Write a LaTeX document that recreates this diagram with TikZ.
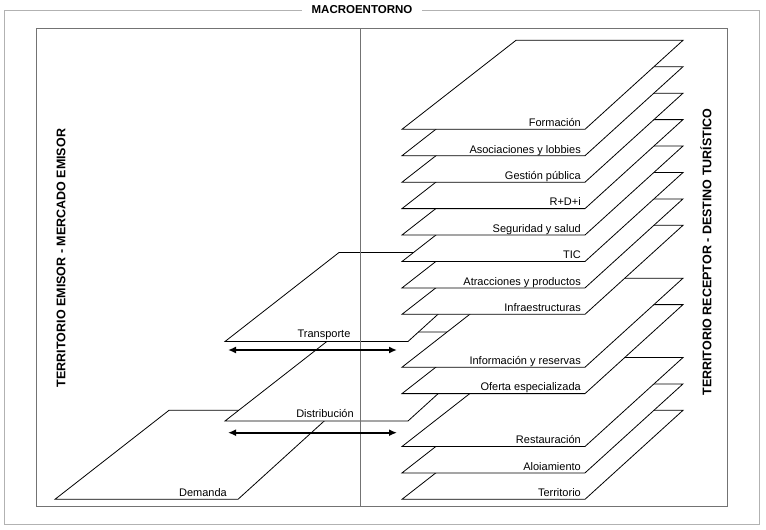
\documentclass[tikz,border=0pt]{standalone}
\usepackage{fontspec}
\setmainfont{Liberation Sans}
\usetikzlibrary{arrows.meta}
\begin{document}
\begin{tikzpicture}[x=1pt,y=-1pt,
  planeline/.style={draw=black,fill=white,line width=0.8pt,line join=miter},
  lab/.style={inner sep=0pt,font=\fontsize{11}{13}\selectfont},
  vlab/.style={inner sep=0pt,font=\fontsize{12.5}{15}\selectfont\bfseries,rotate=90},
  biarrow/.style={line width=1.8pt,{Latex[length=8pt,width=7pt]}-{Latex[length=8pt,width=7pt]}},
  outerbox/.style={draw=black!30,line width=0.8pt},
  innerbox/.style={draw=black!55,line width=0.8pt}]
\useasboundingbox (0,0) rectangle (766,530);
\fill[white] (0,0) rectangle (766,530);
\newcommand{\myplane}[3]{%
  \coordinate (#1) at (#2,#3);
  \path[planeline] (#1) -- ++(183,0) -- ++(98,-89) -- ++(-167,0) -- cycle;}
\newcommand{\rlabel}[4]{%
  \node[lab,anchor=base east] (#1) at (#2,#3) {#4};}
% outer box
\draw[outerbox] (4.5,10) rectangle (759,524);
\node[lab,font=\fontsize{11.5}{13}\selectfont\bfseries,fill=white,inner xsep=10pt,inner ysep=2pt] (macro) at (362,10) {MACROENTORNO};
% planes from bottom to top
\myplane{p14}{402}{499.3}
\rlabel{l14}{581}{496.6}{Territorio}
\myplane{pd}{55}{499.3}
\rlabel{ld}{227}{496.8}{Demanda}
\myplane{p13}{402}{472.9}
\rlabel{l13}{581}{470.2}{Aloiamiento}
\myplane{p12}{402}{446.5}
\rlabel{l12}{581}{443.8}{Restauración}
\myplane{pdist}{225}{421}
\node[lab,anchor=base] (ldist) at (325,417.3) {Distribución};
\myplane{p10}{402}{393.6}
\rlabel{l10}{581}{390.9}{Oferta especializada}
\myplane{p9}{402}{367.2}
\rlabel{l9}{581}{364.5}{Información y reservas}
\myplane{ptr}{225}{341.5}
\node[lab,anchor=base] (ltr) at (324,337.5) {Transporte};
\myplane{p7}{402}{314.3}
\rlabel{l7}{581}{311.6}{Infraestructuras}
\myplane{p6}{402}{287.9}
\rlabel{l6}{581}{285.2}{Atracciones y productos}
\myplane{p5}{402}{261.5}
\rlabel{l5}{581}{258.8}{TIC}
\myplane{p4}{402}{235.0}
\rlabel{l4}{581}{232.3}{Seguridad y salud}
\myplane{p3}{402}{208.6}
\rlabel{l3}{581}{205.9}{R+D+i}
\myplane{p2}{402}{182.2}
\rlabel{l2}{581}{179.5}{Gestión pública}
\myplane{p1}{402}{155.7}
\rlabel{l1}{581}{153.0}{Asociaciones y lobbies}
\myplane{p0}{402}{129.3}
\rlabel{l0}{581}{126.6}{Formación}
% inner box and divider
\draw[innerbox] (36,28.5) rectangle (727,506);
\coordinate (dtop) at (360,28.5);
\coordinate (dbot) at (360,506);
\draw[innerbox] (dtop) -- (dbot);
% arrows
\coordinate (trL) at (228,350);
\coordinate (trR) at (397,350);
\draw[biarrow] (trL) -- (trR);
\coordinate (diL) at (228,432.7);
\coordinate (diR) at (397,432.7);
\draw[biarrow] (diL) -- (diR);
% vertical labels
\node[vlab] (emisor) at (61,258) {TERRITORIO EMISOR - MERCADO EMISOR};
\node[vlab] (receptor) at (706,252) {TERRITORIO RECEPTOR - DESTINO TURÍSTICO};
\end{tikzpicture}
\end{document}
